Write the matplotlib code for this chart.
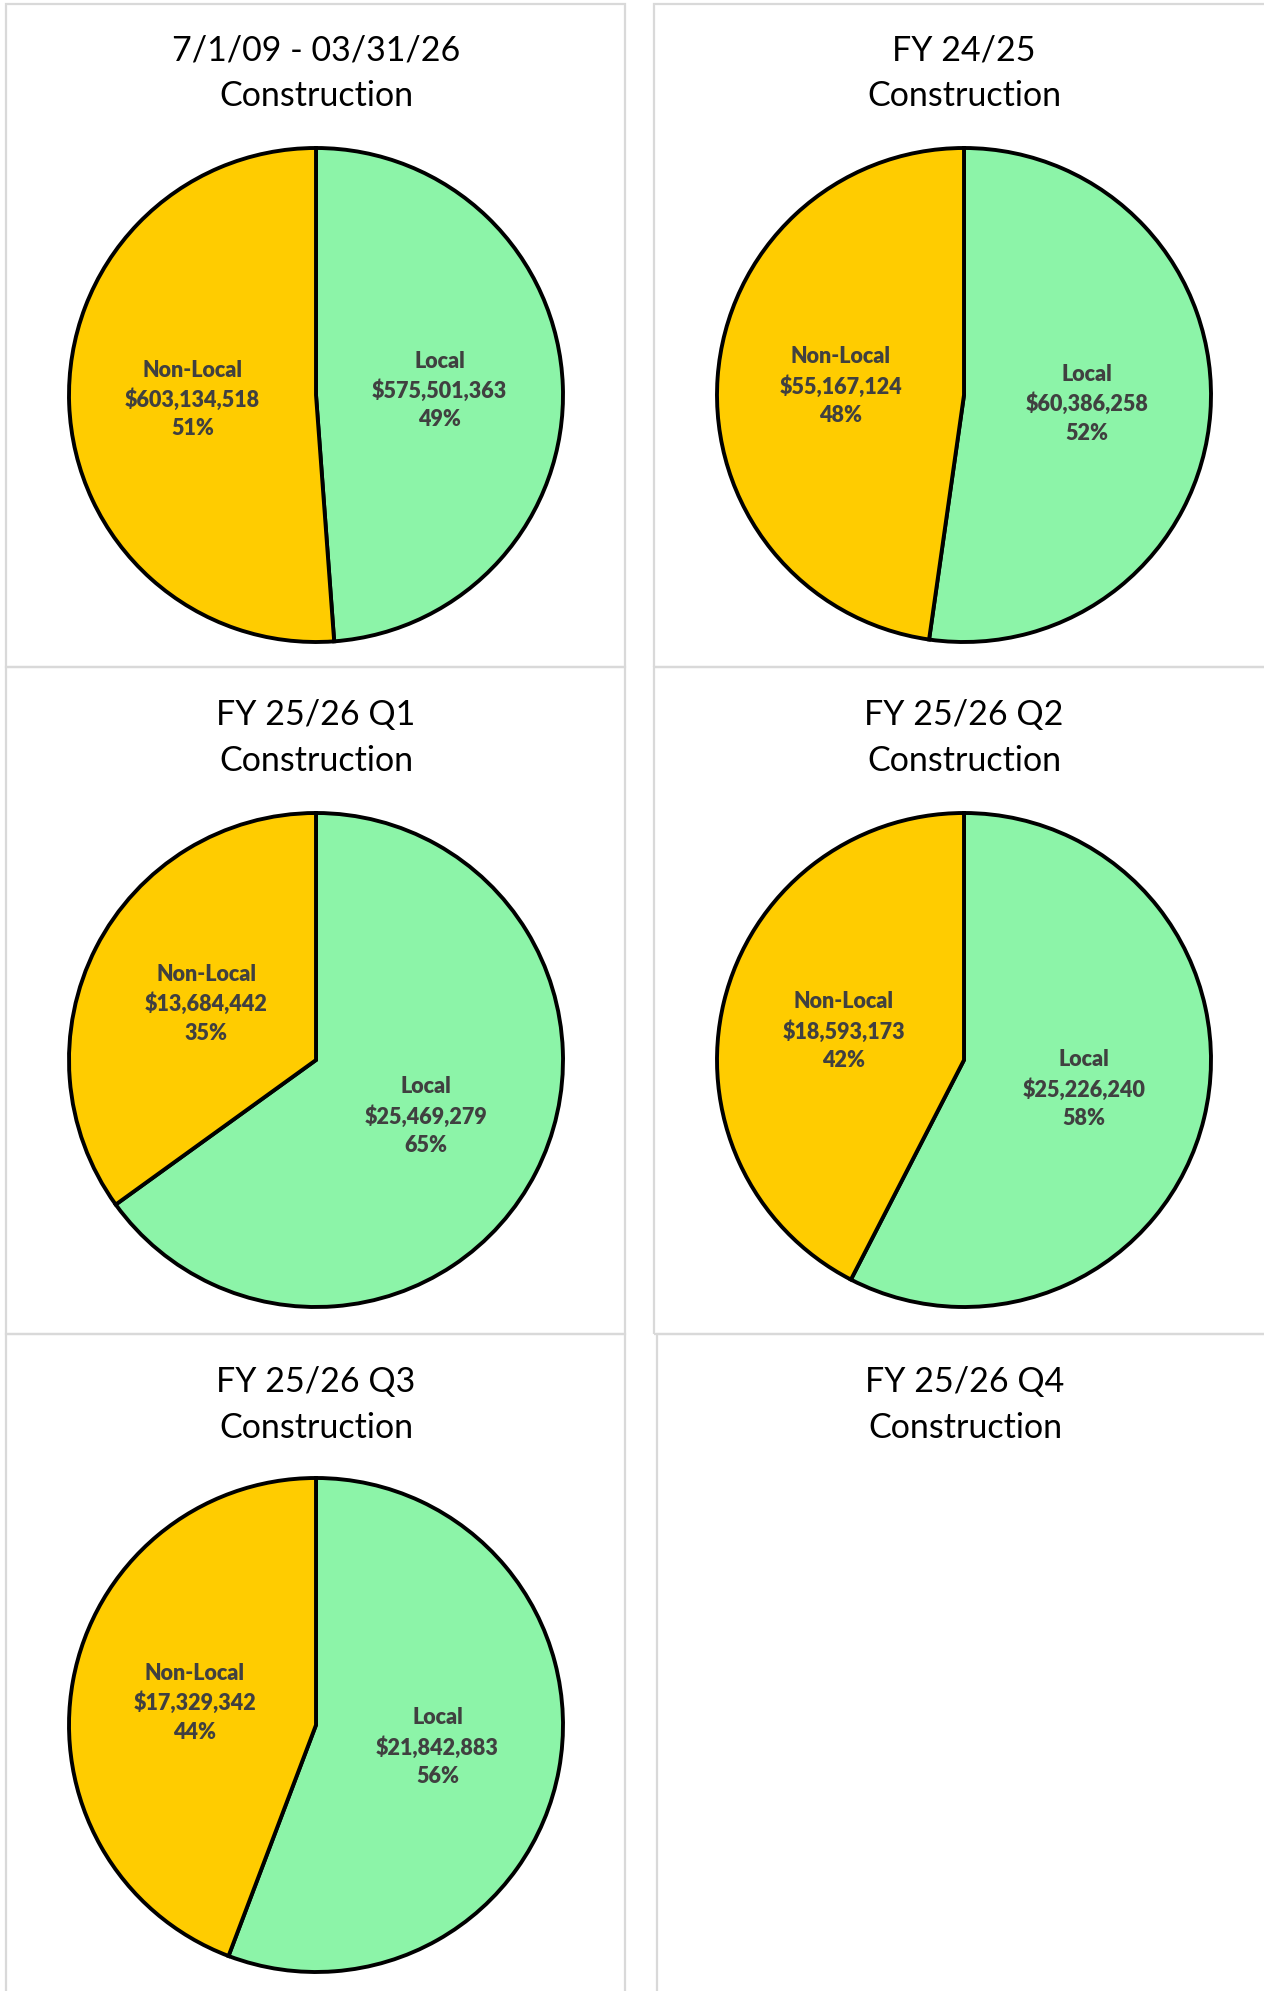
import matplotlib
matplotlib.use("Agg")
import matplotlib.pyplot as plt
from matplotlib.patches import Rectangle
import numpy as np

# ---- data ----
titles = ["7/1/09 - 03/31/26", "FY 24/25", "FY 25/26 Q1", "FY 25/26 Q2", "FY 25/26 Q3", "FY 25/26 Q4"]
subtitle = "Construction"
categories = ["Local", "Non-Local"]
local_vals = [575501363, 60386258, 25469279, 25226240, 21842883]
nonlocal_vals = [603134518, 55167124, 13684442, 18593173, 17329342]
colors = ["#8CF4A8", "#FFCC00"]

W, H = 1264, 1991
fig = plt.figure(figsize=(W / 100, H / 100), dpi=100)
fig.patch.set_facecolor("white")

FONT = ["Lato", "DejaVu Sans"]

def fx(x):
    return x / W

def fy(y):
    return 1 - y / H

# panel borders (pixel coords: x0, y0, x1, y1)
panels = [
    (6, 4, 625, 667), (654, 4, 1270, 667),
    (6, 667, 625, 1334), (654, 667, 1270, 1334),
    (6, 1334, 625, 2000), (657, 1334, 1270, 2000),
]
for (x0, y0, x1, y1) in panels:
    fig.add_artist(Rectangle((fx(x0), fy(y1)), fx(x1 - x0), (y1 - y0) / H,
                             transform=fig.transFigure, fill=False,
                             edgecolor="#D9D9D9", linewidth=1.6))

# panel centers
centers = [(316, 395), (964, 395), (316, 1060), (964, 1060), (316, 1725), (965, 1725)]
title_y = [50, 50, 715, 715, 1382, 1382]
R = 247

for i, (cx, cy) in enumerate(centers):
    fig.text(fx(cx), fy(title_y[i]), titles[i], ha="center", va="center",
             fontsize=24.5, family=FONT, color="black")
    fig.text(fx(cx), fy(title_y[i] + 46), subtitle, ha="center", va="center",
             fontsize=24.5, family=FONT, color="black")
    if i >= len(local_vals):
        continue
    ax = fig.add_axes([fx(cx - R), fy(cy + R), 2 * R / W, 2 * R / H])
    vals = [local_vals[i], nonlocal_vals[i]]
    total = sum(vals)
    wedges, _ = ax.pie(vals, colors=colors, startangle=90, counterclock=False,
                       radius=1.0,
                       wedgeprops=dict(edgecolor="black", linewidth=2.8))
    start = 90.0
    for name, v in zip(categories, vals):
        ang = start - 360.0 * v / total / 2
        start -= 360.0 * v / total
        tx = 0.5 * np.cos(np.radians(ang))
        ty = 0.5 * np.sin(np.radians(ang))
        pct = round(100 * v / total)
        ax.text(tx, ty, f"{name}\n${v:,.0f}\n{pct}%", ha="center", va="center",
                fontsize=15.5, fontweight="heavy", family=FONT, color="#404040",
                linespacing=1.42)
    ax.set_xlim(-1, 1)
    ax.set_ylim(-1, 1)
    ax.set_aspect("equal")
    ax.axis("off")
    for w in wedges:
        w.set_clip_on(False)

fig.savefig("out.png", dpi=100, facecolor="white")
